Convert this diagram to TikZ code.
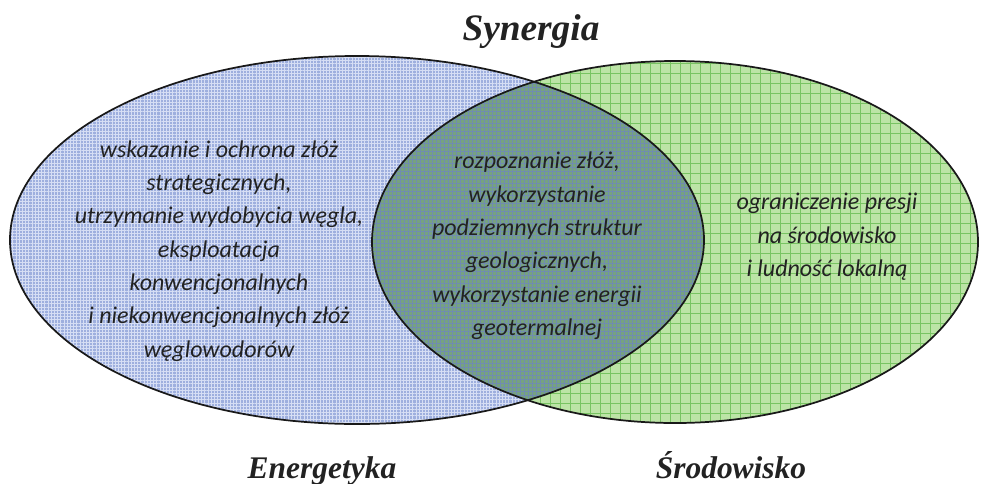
\documentclass[tikz,border=0pt]{standalone}
\usepackage{fontspec}
\setmainfont{Carlito}
\newfontfamily\headfont{Liberation Serif Bold Italic}
\usetikzlibrary{patterns.meta}

\definecolor{enfill}{RGB}{158,175,222}
\definecolor{engrid}{RGB}{214,222,244}
\definecolor{srfill}{RGB}{188,228,166}
\definecolor{srgrid}{RGB}{120,196,98}
\definecolor{bothfill}{RGB}{118,162,128}
\definecolor{bothgrid}{RGB}{112,140,176}
\definecolor{txt}{RGB}{34,34,34}

\tikzset{
  opis/.style={font=\fontsize{18}{25}\selectfont\itshape, align=center, text=txt},
  naglowek/.style={text=txt, anchor=base},
  obwod/.style={draw=black!90, line width=1.3pt}
}

\begin{document}
\begin{tikzpicture}[x=0.75pt,y=-0.75pt]
\useasboundingbox (0,0) rectangle (982,483);
\begin{scope}
    % Srodowisko
    \fill[srfill] (675,242) ellipse [x radius=303, y radius=181];
    \fill[pattern={Hatch[distance=7.5pt,line width=0.5pt]}, pattern color=srgrid] (675,242) ellipse [x radius=303, y radius=181];
    % Energetyka
    \fill[enfill] (357,240) ellipse [x radius=347, y radius=184];
    \fill[pattern={Hatch[distance=2.4pt,line width=0.6pt]}, pattern color=engrid] (357,240) ellipse [x radius=347, y radius=184];
    % czesc wspolna
    \begin{scope}
        \clip (357,240) ellipse [x radius=347, y radius=184];
        \fill[bothfill] (675,242) ellipse [x radius=303, y radius=181];
        \fill[pattern={Hatch[distance=3pt,line width=0.3pt]}, pattern color=bothgrid] (675,242) ellipse [x radius=303, y radius=181];
    \end{scope}
    \draw[obwod] (675,242) ellipse [x radius=303, y radius=181];
    \draw[obwod] (357,240) ellipse [x radius=347, y radius=184];
\end{scope}
\node[naglowek, font=\headfont\fontsize{28}{30}\selectfont] (synergia) at (531,40) {Synergia};
\node[naglowek, font=\headfont\fontsize{23.6}{26}\selectfont] (energetyka) at (322,478) {Energetyka};
\node[naglowek, font=\headfont\fontsize{23.6}{26}\selectfont] (srodowisko) at (731,478) {Środowisko};
\node[opis] (opisE) at (219,251) {wskazanie i ochrona złóż\\strategicznych,\\utrzymanie wydobycia węgla,\\eksploatacja\\konwencjonalnych\\i niekonwencjonalnych złóż\\węglowodorów};
\node[opis] (opisES) at (537,246) {rozpoznanie złóż,\\wykorzystanie\\podziemnych struktur\\geologicznych,\\wykorzystanie energii\\geotermalnej};
\node[opis] (opisS) at (827,237) {ograniczenie presji\\na środowisko\\i ludność lokalną};
\end{tikzpicture}
\end{document}
